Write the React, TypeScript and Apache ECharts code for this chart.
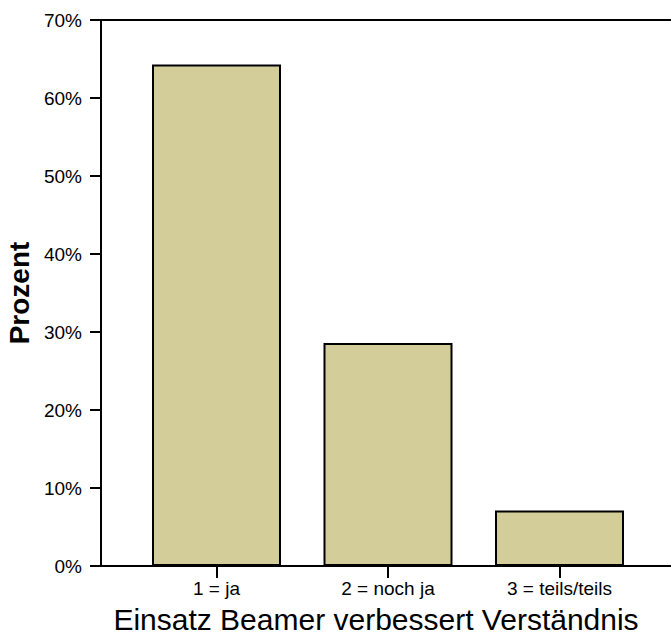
import React, { useEffect, useRef } from "react";
import * as echarts from "echarts";

const categories = ["1 = ja", "2 = noch ja", "3 = teils/teils"];
const categoryPositions = [1, 2, 3];
const percentValues = [64.3, 28.6, 7.1];
const yTicks = { min: 0, max: 70, interval: 10 };
const xAxisTitle = "Einsatz Beamer verbessert Verständnis";
const yAxisTitle = "Prozent";

const FONT = "'Liberation Sans', Arial, sans-serif";

export default function App() {
  const ref = useRef<HTMLDivElement>(null);

  useEffect(() => {
    if (!ref.current) return;
    const chart = echarts.init(ref.current, undefined, { renderer: "svg" });
    chart.setOption({
      animation: false,
      backgroundColor: "#ffffff",
      graphic: [
        {
          type: "text",
          x: 376,
          y: 619,
          style: {
            text: xAxisTitle,
            align: "center",
            verticalAlign: "middle",
            fontFamily: FONT,
            fontSize: 30,
            fill: "#000",
          },
        },
      ],
      grid: {
        left: 101,
        top: 20,
        bottom: 72,
        right: -40,
        show: true,
        borderColor: "#000",
        borderWidth: 2,
        containLabel: false,
        outerBoundsMode: "none",
      },
      xAxis: {
        type: "value",
        min: 0.3265,
        max: 3.8834,
        splitLine: { show: false },
        axisLine: { show: true, onZero: false, lineStyle: { color: "#000", width: 2 } },
        axisTick: {
          show: true,
          customValues: categoryPositions,
          length: 12,
          lineStyle: { color: "#000", width: 2 },
        },
        axisLabel: {
          customValues: categoryPositions,
          margin: 13,
          fontFamily: FONT,
          fontSize: 19,
          color: "#000",
          formatter: (v: number) => categories[Math.round(v) - 1] ?? "",
        },
      },
      yAxis: {
        type: "value",
        min: yTicks.min,
        max: yTicks.max,
        interval: yTicks.interval,
        name: yAxisTitle,
        nameLocation: "middle",
        nameGap: 62,
        nameTextStyle: { fontFamily: FONT, fontSize: 28, fontWeight: "bold", color: "#000" },
        splitLine: { show: false },
        axisLine: { show: true, lineStyle: { color: "#000", width: 2 } },
        axisTick: { show: true, length: 11, lineStyle: { color: "#000", width: 2 } },
        axisLabel: {
          margin: 19,
          fontFamily: FONT,
          fontSize: 19,
          color: "#000",
          formatter: "{value}%",
        },
      },
      series: [
        {
          type: "bar",
          barWidth: 129,
          data: categoryPositions.map((x, i) => [x, percentValues[i]]),
          itemStyle: { color: "#D3CE99", borderColor: "#000", borderWidth: 2 },
        },
      ],
    });
    return () => chart.dispose();
  }, []);

  return (
    <div
      ref={ref}
      style={{ position: "absolute", left: 0, top: 0, width: 671, height: 638 }}
    />
  );
}
